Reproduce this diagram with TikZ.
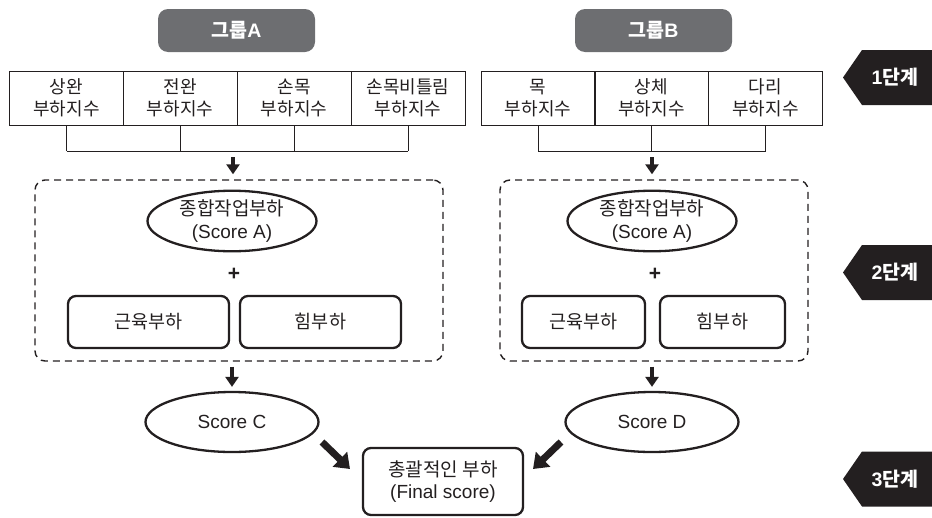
\documentclass[tikz,border=0pt]{standalone}
\usepackage{fontspec}
\setmainfont{Liberation Sans}
\newfontfamily\kr{Noto Sans CJK KR}
\usetikzlibrary{arrows.meta,shapes.geometric,calc}
\definecolor{ink}{HTML}{231F20}
\definecolor{pillgray}{HTML}{6D6E71}
\tikzset{
  cell/.style={draw=ink, line width=0.9pt, minimum width=114pt, minimum height=54pt,
    inner sep=0pt, align=center, text=ink, font=\kr\fontsize{18}{22}\selectfont},
  pillbox/.style={fill=pillgray, rounded corners=10pt, minimum width=157pt, minimum height=43pt,
    inner sep=0pt, text=white, font=\fontsize{19.5}{20}\selectfont\bfseries},
  dbox/.style={draw=ink, line width=1.4pt, dash pattern=on 7pt off 5pt, rounded corners=10pt, inner sep=0pt},
  ell/.style={ellipse, draw=ink, line width=2.3pt, inner sep=0pt, align=center, text=ink,
    font=\fontsize{19}{23}\selectfont},
  rbox/.style={draw=ink, line width=2.3pt, rounded corners=8pt, minimum height=52pt, inner sep=0pt,
    align=center, text=ink, font=\kr\fontsize{18.5}{22}\selectfont},
  plus/.style={text=ink, font=\fontsize{21}{21}\selectfont\bfseries, inner sep=0pt},
  bigarrow/.style={draw=ink, line width=4.5pt, -{Triangle[width=13pt,length=10pt]}},
  diagarrow/.style={draw=ink, line width=7pt, -{Triangle[width=20pt,length=14pt]}},
  thinline/.style={draw=ink, line width=0.9pt},
  tagtext/.style={text=white, inner sep=0pt, font=\fontsize{19.5}{20}\selectfont\bfseries},
}
\begin{document}
\begin{tikzpicture}[x=1pt,y=-1pt]
\useasboundingbox (0,0) rectangle (932,517);

% group pills
\node[pillbox] (ga) at (236.5,30.5) {{\kr 그룹}A};
\node[pillbox] (gb) at (653.5,30.5) {{\kr 그룹}B};

% top cells group A
\node[cell] (a1) at (66.5,98) {상완\\부하지수};
\node[cell] (a2) at (180,98) {전완\\부하지수};
\node[cell] (a3) at (294,98) {손목\\부하지수};
\node[cell] (a4) at (408,98) {손목비틀림\\부하지수};
% top cells group B
\node[cell] (b1) at (538,98) {목\\부하지수};
\node[cell] (b2) at (651.5,98) {상체\\부하지수};
\node[cell] (b3) at (765.5,98) {다리\\부하지수};

% brackets
\coordinate (ja) at (233,151);
\coordinate (jb) at (652,151);
\foreach \c in {a1,a2,a3,a4} \draw[thinline] (\c.south) -- (\c.south |- ja);
\draw[thinline] (a1.south |- ja) -- (a4.south |- ja);
\foreach \c in {b1,b2,b3} \draw[thinline] (\c.south) -- (\c.south |- jb);
\draw[thinline] (b1.south |- jb) -- (b3.south |- jb);

% dashed boxes
\node[dbox, minimum width=408pt, minimum height=181pt] (da) at (239,270.5) {};
\node[dbox, minimum width=308pt, minimum height=181pt] (db) at (654,270.5) {};

\draw[bigarrow, shorten >=5pt] ([yshift=-6pt]ja) -- (ja |- da.north);
\draw[bigarrow, shorten >=5pt] ([yshift=-6pt]jb) -- (jb |- db.north);

% inner ellipses
\node[ell, minimum width=169pt, minimum height=58pt] (ea) at (232,221) {{\kr 종합작업부하}\\(Score A)};
\node[ell, minimum width=169pt, minimum height=58pt] (eb) at (652,221) {{\kr 종합작업부하}\\(Score A)};
\node[plus] (pa) at (234,274) {+};
\node[plus] (pb) at (655,274) {+};

% inner boxes
\node[rbox, minimum width=161pt] (ma) at (148.5,322) {근육부하};
\node[rbox, minimum width=161pt] (fa) at (320.5,322) {힘부하};
\node[rbox, minimum width=123pt] (mb) at (583.5,322) {근육부하};
\node[rbox, minimum width=125pt] (fb) at (722.5,322) {힘부하};

% score ellipses
\node[ell, minimum width=173pt, minimum height=60pt] (sc) at (232,422) {Score C};
\node[ell, minimum width=173pt, minimum height=60pt] (sd) at (652,422) {Score D};

\draw[bigarrow, shorten <=5pt, shorten >=4pt] (sc |- da.south) -- (sc.north);
\draw[bigarrow, shorten <=5pt, shorten >=4pt] (sd |- db.south) -- (sd.north);

% final box
\node[rbox, minimum width=160pt, minimum height=67pt, font=\fontsize{19}{22}\selectfont] (fin) at (443,481.5) {{\kr 총괄적인 부하}\\(Final score)};

\coordinate (cl1) at (322,442);
\coordinate (cl2) at (350,469);
\coordinate (cr1) at (561,442);
\coordinate (cr2) at (533,469);
\draw[diagarrow] (cl1) -- (cl2);
\draw[diagarrow] (cr1) -- (cr2);

% step tags
\foreach \n/\y in {1/77.5, 2/272.5, 3/479} {
  \fill[ink] (843,\y) -- (862,\y-27.5) -- (932,\y-27.5) -- (932,\y+27.5) -- (862,\y+27.5) -- cycle;
  \node[tagtext] (t\n) at (895,\y) {\n{\kr 단계}};
}
\end{tikzpicture}
\end{document}
